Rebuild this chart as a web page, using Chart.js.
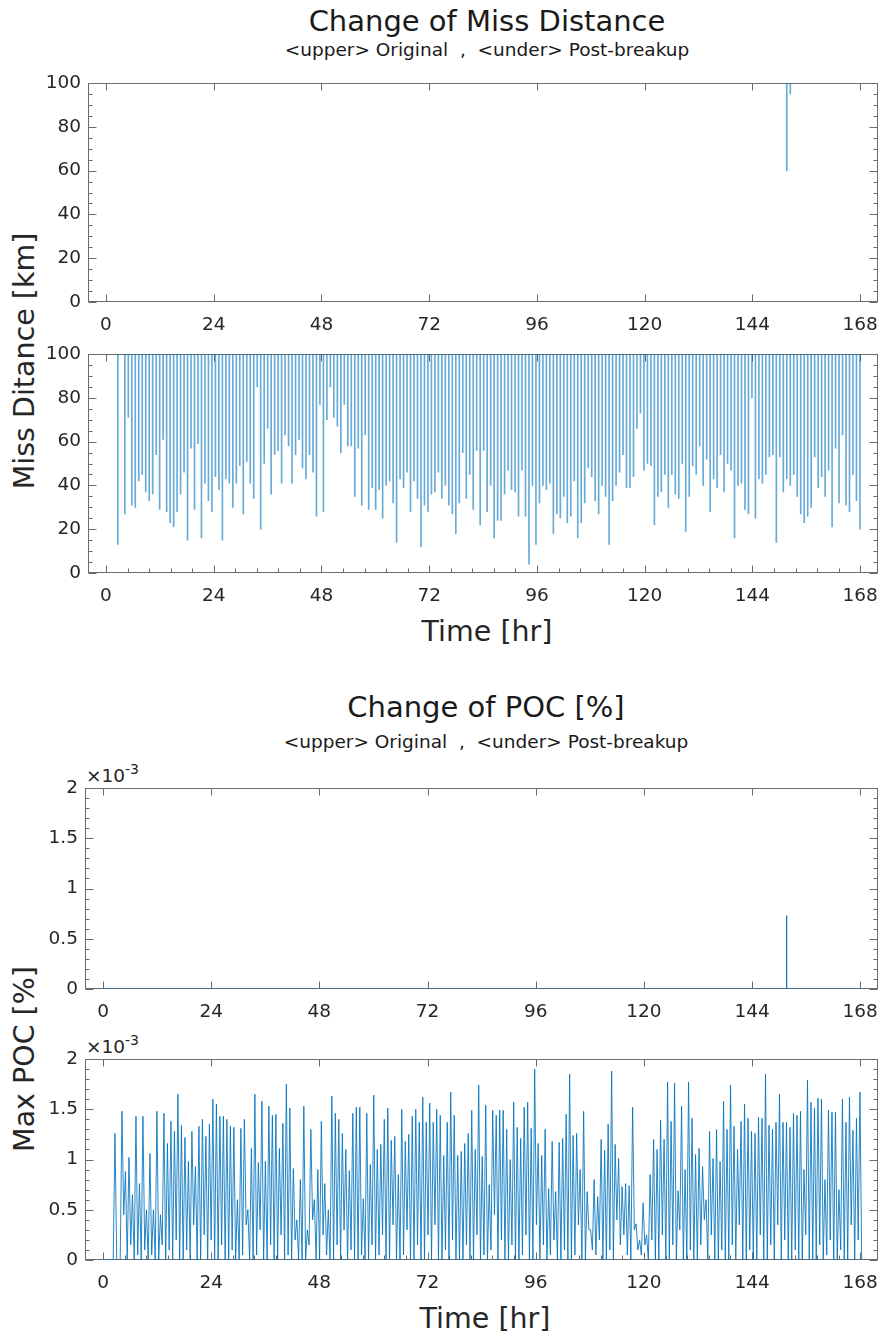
<!DOCTYPE html>
<html>
<head>
<meta charset="utf-8">
<title>Change of Miss Distance / POC</title>
<script src="https://cdn.jsdelivr.net/npm/chart.js@4.4.1/dist/chart.umd.min.js"></script>
<style>
    body {
        margin: 0;
        width: 890px;
        height: 1336px;
        overflow: hidden;
        position: relative;
        background: #fff;
        font-family: 'DejaVu Sans', sans-serif;
        color: #262626;
    }
    canvas { position: absolute; left: 0; }
    .txt { position: absolute; white-space: nowrap; line-height: 1; }
    .center { transform: translateX(-50%); }
    .vert { transform: translate(-50%, -50%) rotate(-90deg); }
    .title { font-size: 29px; color: #1a1a1a; }
    .sub { font-size: 18.5px; color: #1a1a1a; }
    .label { font-size: 28.5px; }
    .expo { font-size: 18.5px; }
    .expo span { font-size: 14px; position: relative; top: -0.55em; }
</style>
</head>
<body>

<div class="txt title center" style="left:487px; top:7px;">Change of Miss Distance</div>
<div class="txt sub center" style="left:487px; top:41px;">&lt;upper&gt; Original &nbsp;, &nbsp;&lt;under&gt; Post-breakup</div>
<div class="txt label vert" style="left:25px; top:361px;">Miss Ditance [km]</div>
<div class="txt label center" style="left:487px; top:618px;">Time [hr]</div>

<div class="txt title center" style="left:486px; top:693px;">Change of POC [%]</div>
<div class="txt sub center" style="left:486px; top:733px;">&lt;upper&gt; Original &nbsp;, &nbsp;&lt;under&gt; Post-breakup</div>
<div class="txt expo" style="left:86px; top:767px;">×10<span>-3</span></div>
<div class="txt expo" style="left:86px; top:1038px;">×10<span>-3</span></div>
<div class="txt label vert" style="left:25px; top:1059px;">Max POC [%]</div>
<div class="txt label center" style="left:485px; top:1305px;">Time [hr]</div>

<canvas id="missOrig"></canvas>
<canvas id="missPost"></canvas>
<canvas id="pocOrig"></canvas>
<canvas id="pocPost"></canvas>

<script>
// axis ticks
const hourTicks = [0, 24, 48, 72, 96, 120, 144, 168];
const missTicks = [0, 20, 40, 60, 80, 100];
const pocTicks = [0, 0.5, 1, 1.5, 2];

// encounters happen once per pass, starting a little after t = 0
const encounterStartHr = 2.65;
const encounterStepHr = 0.776;

// original object: only one close pass below 100 km
const origMissHr = [151.64, 152.42];
const origMissKm = [60, 95];

// original object POC [x1e-3]
const origPocHr = [0, 151.55, 151.64, 151.73, 168];
const origPoc = [0, 0, 0.73, 0, 0];

// post-breakup closest approach per encounter [km] (null = stays above 100 km)
const postMissKm = [
    13, null, 27, 71, 31, 30, 42, 45, 37, 33,
    36, 54, 29, 61, 28, 23, 21, 28, 36, 46,
    15, 57, 29, 59, 16, 41, 33, 28, 44, 38,
    15, 43, 41, 30, 41, 49, 27, 51, 41, 34,
    85, 20, 50, 66, 36, 54, 56, 41, 63, 58,
    41, 54, 61, 48, 43, 54, 46, 26, 77, 28,
    70, 85, 71, 67, 55, 77, 58, 58, 35, 57,
    31, 63, 29, 39, 29, 38, 25, 40, 42, 32,
    14, 43, 39, 46, 28, 42, 34, 12, 31, 28,
    36, 37, 46, 34, 40, 31, 27, 18, 32, 55,
    34, 45, 29, 56, 22, 56, 28, 40, 16, 24,
    24, 36, 47, 38, 37, 26, 47, 26, 4, 40,
    13, 32, 40, 38, 41, 18, 27, 25, 35, 23,
    26, 42, 16, 23, 32, 48, 44, 33, 27, 40,
    35, 13, 33, 40, 46, 54, 39, 39, 44, 66,
    73, 47, 50, 49, 22, 35, 37, 45, 30, 45,
    36, 34, 50, 19, 35, 49, 45, 58, 40, 52,
    28, 43, 39, 54, 37, 50, 47, 16, 40, 41,
    29, 27, 80, 25, 43, 41, 45, 53, 54, 14,
    53, 37, 43, 40, 45, 35, 27, 23, 26, 30,
    53, 39, 44, 35, 47, 21, 57, 32, 63, 31,
    28, 45, 33, 20
];

// post-breakup max POC at each encounter [x1e-3]
const postPocPeak = [
    1.26, 0, 1.48, 0.88, 1.02, 0.65, 1.43, 0.76, 1.43, 0.50,
    1.06, 0.50, 1.48, 0.45, 1.46, 1.16, 1.38, 1.28, 1.65, 1.34,
    1.22, 0.98, 1.28, 0.93, 1.33, 1.40, 1.23, 1.35, 1.60, 1.55,
    1.43, 1.43, 1.40, 1.33, 1.32, 0.60, 1.31, 1.40, 0.50, 1.11,
    1.65, 0.97, 1.58, 0.98, 1.53, 1.44, 1.45, 1.11, 1.36, 1.75,
    1.51, 0.91, 0.40, 0.80, 1.53, 0.30, 1.30, 0.60, 0.90, 1.38,
    0.76, 0.50, 1.63, 1.46, 1.40, 1.26, 1.10, 0.89, 1.46, 1.52,
    1.52, 0.61, 1.46, 0.95, 1.64, 1.10, 1.15, 1.40, 1.51, 1.19,
    1.23, 0.85, 1.50, 1.18, 1.25, 1.43, 1.50, 1.37, 1.62, 1.37,
    1.56, 1.37, 1.50, 1.44, 1.04, 1.37, 1.67, 1.44, 1.04, 1.08,
    1.16, 1.26, 1.49, 1.10, 1.74, 1.03, 1.54, 0.75, 1.49, 1.44,
    1.49, 1.49, 1.30, 1.00, 1.57, 1.32, 1.21, 1.52, 1.57, 1.31,
    1.90, 1.16, 1.04, 1.30, 0.71, 1.18, 0.68, 1.17, 1.21, 1.45,
    1.85, 1.24, 1.26, 0.90, 1.48, 0.68, 0.30, 0.80, 0.63, 1.20,
    1.09, 1.35, 1.88, 1.15, 1.01, 0.73, 0.76, 0.74, 1.52, 0.36,
    0.20, 0.57, 0.25, 0.85, 1.20, 1.10, 1.39, 1.20, 1.77, 1.38,
    1.76, 0.69, 1.53, 0.90, 1.77, 1.41, 1.05, 1.11, 0.93, 0.60,
    1.28, 1.01, 1.30, 0.98, 1.58, 1.30, 1.74, 1.33, 1.10, 1.38,
    1.55, 1.41, 1.28, 1.26, 1.42, 1.41, 1.85, 1.34, 1.30, 1.37,
    1.65, 1.37, 1.37, 1.32, 1.46, 1.44, 1.48, 0.90, 1.79, 1.57,
    1.51, 1.61, 1.60, 0.80, 1.49, 1.47, 1.47, 0.70, 1.60, 1.37,
    1.62, 1.29, 1.41, 1.67
];

// POC half a pass after each encounter [x1e-3]
const postPocBetween = [
    0, 0, 0.45, 0, 0.15, 0, 0.05, 0, 0.10, 0,
    0.05, 0, 0, 0.15, 0, 0.10, 0, 0.20, 0, 0,
    0.10, 0, 0.35, 0, 0, 0.25, 0, 0.20, 0, 0,
    0.15, 0, 0, 0.10, 0, 0, 0.05, 0.35, 0, 0,
    0.05, 0.30, 0, 0, 0.15, 0, 0, 0.25, 0, 0.05,
    0, 0.20, 0, 0, 0, 0.15, 0.40, 0, 0, 0.25,
    0.05, 0, 0, 0.15, 0, 0.30, 0, 0.10, 0, 0,
    0.05, 0, 0, 0.15, 0, 0.05, 0.25, 0, 0, 0.35,
    0, 0, 0.05, 0.30, 0, 0, 0.15, 0, 0, 0.25,
    0, 0.35, 0, 0, 0.10, 0, 0.20, 0, 0, 0,
    0.15, 0, 0, 0.25, 0, 0.05, 0, 0.10, 0.45, 0,
    0.20, 0, 0, 0.15, 0, 0, 0.05, 0.25, 0, 0,
    0.35, 0, 0.15, 0, 0.05, 0.20, 0, 0, 0.10, 0,
    0, 0.05, 0.35, 0, 0, 0.30, 0.10, 0.05, 0.20, 0,
    0, 0.10, 0, 0.40, 0.15, 0.25, 0.05, 0, 0.30, 0.10,
    0.05, 0.15, 0, 0.20, 0, 0, 0.25, 0, 0, 0.15,
    0, 0.30, 0, 0, 0.10, 0, 0, 0.15, 0.40, 0,
    0.25, 0, 0, 0.10, 0, 0, 0.15, 0, 0.35, 0,
    0, 0.10, 0, 0, 0.25, 0, 0, 0.15, 0, 0.35,
    0, 0.20, 0, 0, 0.10, 0, 0, 0.25, 0, 0,
    0, 0.15, 0, 0.05, 0.20, 0, 0, 0.10, 0, 0,
    0.35, 0, 0.20, 0
];

// quiet stretch before the first encounter [hr, x1e-3]
const prePocHr = [0, 2.26];
const prePoc = [0, 0];

const LINE_BLUE = 'rgba(0, 114, 189, 0.85)';
const SPIKE_BLUE = 'rgba(0, 114, 189, 0.6)';
const AXIS_GREY = '#6a6a6a';
const PAD_TOP = 20;
const X_AXIS_H = 40;
const PLOT_RIGHT = 885;

const tickFont = { family: "'DejaVu Sans', sans-serif", size: 18.5 };

// MATLAB-style box with inward ticks
const axesBox = {
    id: 'axesBox',
    beforeDatasetsDraw(chart, args, opts) {
        const { ctx, chartArea: a, scales: { x, y } } = chart;
        const L = Math.round(a.left) + 0.5, R = Math.round(a.right) - 0.5;
        const T = Math.round(a.top) + 0.5, B = Math.round(a.bottom) - 0.5;
        ctx.save();
        ctx.strokeStyle = AXIS_GREY;
        ctx.lineWidth = 1;
        ctx.strokeRect(L, T, R - L, B - T);
        ctx.beginPath();
        hourTicks.forEach(h => {
            const px = Math.round(x.getPixelForValue(h)) + 0.5;
            ctx.moveTo(px, B); ctx.lineTo(px, B - 7);
            ctx.moveTo(px, T); ctx.lineTo(px, T + 7);
        });
        if (opts.xMinor) {
            for (let i = 1; i * 4.8 < 172; i++) {
                if (i % 5 === 0) continue;
                const px = Math.round(x.getPixelForValue(i * 4.8)) + 0.5;
                ctx.moveTo(px, B); ctx.lineTo(px, B - 4);
            }
        }
        opts.yTicks.forEach(v => {
            const py = Math.round(y.getPixelForValue(v)) + 0.5;
            ctx.moveTo(L, py); ctx.lineTo(L + 8, py);
            ctx.moveTo(R, py); ctx.lineTo(R - 8, py);
        });
        for (let i = 1; i < opts.yMinorCount; i++) {
            if (i % opts.yMinorEvery === 0) continue;
            const v = y.min + (y.max - y.min) * i / opts.yMinorCount;
            const py = Math.round(y.getPixelForValue(v)) + 0.5;
            ctx.moveTo(L, py); ctx.lineTo(L + 4, py);
            ctx.moveTo(R, py); ctx.lineTo(R - 4, py);
        }
        ctx.stroke();
        ctx.restore();
    }
};

function makePanel(id, spec) {
    const el = document.getElementById(id);
    el.width = 890;
    el.height = PAD_TOP + spec.plotH + X_AXIS_H;
    el.style.top = (spec.plotTop - PAD_TOP) + 'px';

    return new Chart(el, {
        type: spec.type,
        data: { datasets: [spec.dataset] },
        options: {
            responsive: false,
            animation: false,
            devicePixelRatio: 1,
            layout: { padding: { top: PAD_TOP, right: 890 - PLOT_RIGHT, bottom: 0, left: 0 } },
            plugins: {
                legend: { display: false },
                tooltip: { enabled: false },
                axesBox: spec.box
            },
            scales: {
                x: {
                    type: 'linear',
                    min: -4,
                    max: 172,
                    offset: false,
                    grid: { display: false, drawTicks: false },
                    border: { display: false },
                    afterBuildTicks: s => { s.ticks = hourTicks.map(v => ({ value: v })); },
                    afterFit: s => { s.height = X_AXIS_H; },
                    ticks: { autoSkip: false, maxRotation: 0, padding: 12, color: '#262626', font: tickFont }
                },
                y: {
                    type: 'linear',
                    min: spec.yMin,
                    max: spec.yMax,
                    grid: { display: false, drawTicks: false },
                    border: { display: false },
                    afterBuildTicks: s => { s.ticks = spec.yTicks.map(v => ({ value: v })); },
                    afterFit: s => { s.width = spec.plotLeft; },
                    ticks: {
                        autoSkip: false, padding: 7, color: '#262626', font: tickFont,
                        callback: v => String(v)
                    }
                }
            }
        },
        plugins: [axesBox]
    });
}

const encounterHr = postMissKm.map((_, k) => encounterStartHr + encounterStepHr * k);

// post-breakup POC line: quiet start, then encounter peak / half-pass value
const postPocPoints = prePocHr.map((h, i) => ({ x: h, y: prePoc[i] }));
encounterHr.forEach((h, k) => {
    postPocPoints.push({ x: h, y: postPocPeak[k] });
    postPocPoints.push({ x: h + encounterStepHr / 2, y: postPocBetween[k] });
});

const missBox = { yTicks: missTicks, yMinorCount: 20, yMinorEvery: 4 };
const pocBox = { yTicks: pocTicks, yMinorCount: 20, yMinorEvery: 5 };

// miss distance spikes hang down from the 100 km ceiling
const missBars = (hrs, kms) => ({
    data: hrs.map((h, i) => ({ x: h, y: kms[i] })),
    base: 100,
    backgroundColor: SPIKE_BLUE,
    barThickness: 1,
    categoryPercentage: 1,
    barPercentage: 1
});

makePanel('missOrig', {
    type: 'bar', plotTop: 83, plotH: 219, plotLeft: 88,
    yMin: 0, yMax: 100, yTicks: missTicks,
    box: Object.assign({ xMinor: false }, missBox),
    dataset: missBars(origMissHr, origMissKm)
});

makePanel('missPost', {
    type: 'bar', plotTop: 354, plotH: 219, plotLeft: 88,
    yMin: 0, yMax: 100, yTicks: missTicks,
    box: Object.assign({ xMinor: true }, missBox),
    dataset: missBars(encounterHr, postMissKm)
});

makePanel('pocOrig', {
    type: 'line', plotTop: 788, plotH: 201, plotLeft: 85,
    yMin: 0, yMax: 2, yTicks: pocTicks,
    box: Object.assign({ xMinor: false }, pocBox),
    dataset: {
        data: origPocHr.map((h, i) => ({ x: h, y: origPoc[i] })),
        borderColor: LINE_BLUE, borderWidth: 1, pointRadius: 0, tension: 0, fill: false
    }
});

makePanel('pocPost', {
    type: 'line', plotTop: 1059, plotH: 201, plotLeft: 85,
    yMin: 0, yMax: 2, yTicks: pocTicks,
    box: Object.assign({ xMinor: true }, pocBox),
    dataset: {
        data: postPocPoints,
        borderColor: LINE_BLUE, borderWidth: 1, pointRadius: 0, tension: 0, fill: false
    }
});
</script>
</body>
</html>
